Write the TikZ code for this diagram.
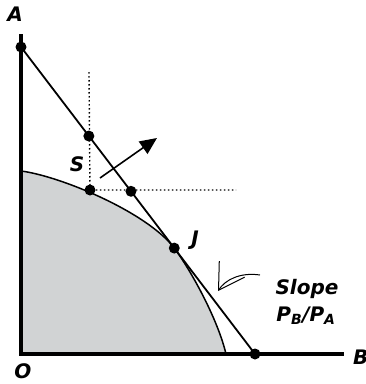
\documentclass[tikz,border=0pt]{standalone}
\usepackage{fontspec}
\setsansfont{DejaVu Sans}
\usetikzlibrary{arrows.meta, calc}
\definecolor{ppfgray}{RGB}{209,211,212}

\begin{document}
\begin{tikzpicture}[
    x=1pt, y=-1pt,
    lbl/.style={font=\sffamily\bfseries\itshape\fontsize{20}{22}\selectfont, inner sep=0pt},
    dot/.style={circle, fill=black, inner sep=0pt, minimum size=11pt},
    axis/.style={line width=4pt},
    guide/.style={dash pattern=on 1.5pt off 2.5pt, line width=1.4pt},
    arrow/.style={-{Triangle[length=17pt,width=15pt]}, line width=1.6pt}
]
\useasboundingbox (0,0) rectangle (366,384);

\coordinate (O) at (21,354);
\coordinate (top) at (21,34);
\coordinate (right) at (344,354);
\coordinate (start) at (21,171);
\coordinate (end) at (226,354);
\coordinate (Apt) at (21,47);
\coordinate (Bpt) at (255,354);
\coordinate (J) at ($(Apt)!0.655!(Bpt)$);

% production possibility frontier
\fill[ppfgray] (start) .. controls (60,176) and (147,212) .. (J)
    .. controls (192,272) and (218,320) .. (end) -- (O) -- cycle;
\draw[line width=1.5pt] (start) .. controls (60,176) and (147,212) .. (J)
    .. controls (192,272) and (218,320) .. (end);

% dotted guides
\coordinate (vtop) at (89,72);
\coordinate (hend) at (236,190);
\node[dot] (S) at (90,190) {};
\draw[guide] (vtop) -- (S.center) -- (hend);

% budget line
\draw[line width=1.8pt] (Apt) -- (Bpt);
\node[dot] (a) at (Apt) {};
\node[dot] (b) at (Bpt) {};
\node[dot] (s1) at ($(Apt)!0.29!(Bpt)$) {};
\node[dot] (s2) at ($(Apt)!0.47!(Bpt)$) {};
\node[dot] (j) at (J) {};

% axes
\draw[axis] (top) -- (O) -- (right);

% direction arrow
\coordinate (tail) at (100,178);
\coordinate (head) at (157,138);
\draw[arrow] (tail) -- (head);

% slope pointer
\coordinate (ptr) at (260,275);
\coordinate (tip) at (218,291);
\draw[line width=1pt, -{Straight Barb[length=25pt,width=30pt,line width=1pt]}]
    (ptr) .. controls (240,272) and (225,280) .. (tip);

% labels
\node[lbl] (lA) at (15,14) {A};
\node[lbl] (lO) at (23,371) {O};
\node[lbl, anchor=west] (lB) at (353,357) {B};
\node[lbl] (lS) at (77,164) {S};
\node[lbl] (lJ) at (195,240) {J};
\node[lbl] (slope) at (307,289) {Slope};
\node[lbl] (ratio) at (306,316) {P\textsubscript{B}/P\textsubscript{A}};

\end{tikzpicture}
\end{document}
